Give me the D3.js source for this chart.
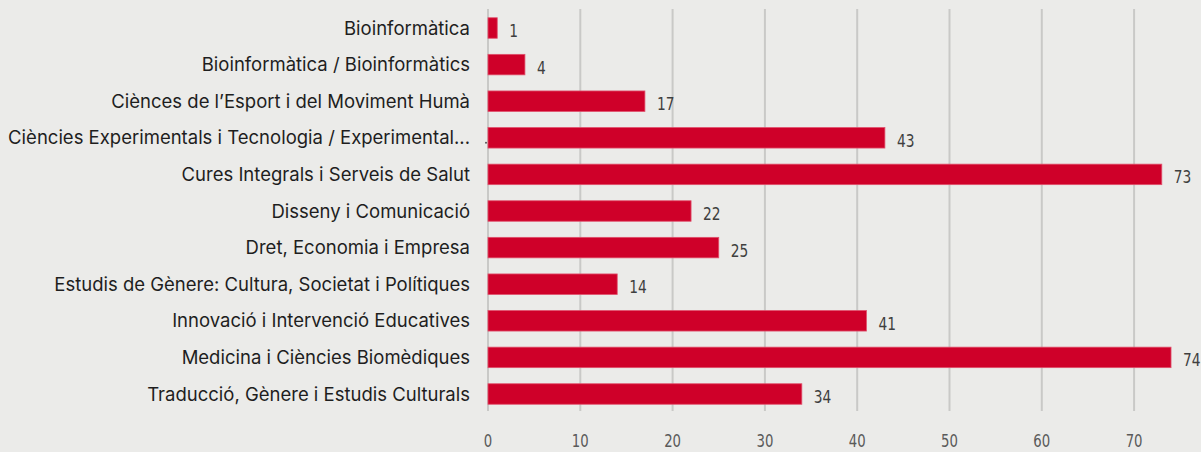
<!DOCTYPE html>
<html>
<head>
<meta charset="utf-8">
<script src="https://cdn.jsdelivr.net/npm/d3@7"></script>
<style>
  html, body { margin: 0; padding: 0; background: #ebebe9; }
  svg { display: block; }
</style>
</head>
<body>
<svg width="1201" height="452"></svg>
<script>
var categories = [
  "Bioinformàtica",
  "Bioinformàtica / Bioinformàtics",
  "Ciènces de l’Esport i del Moviment Humà",
  "Ciències Experimentals i Tecnologia / Experimental...",
  "Cures Integrals i Serveis de Salut",
  "Disseny i Comunicació",
  "Dret, Economia i Empresa",
  "Estudis de Gènere: Cultura, Societat i Polítiques",
  "Innovació i Intervenció Educatives",
  "Medicina i Ciències Biomèdiques",
  "Traducció, Gènere i Estudis Culturals"
];
var values = [1, 4, 17, 43, 73, 22, 25, 14, 41, 74, 34];
var tickValues = [0, 10, 20, 30, 40, 50, 60, 70];

var svg = d3.select("svg");
var numFont = "'Liberation Sans Narrow', 'DejaVu Sans Condensed', sans-serif";

var x = d3.scaleLinear().domain([0, 80]).range([488, 1226.4]);
var y = d3.scaleBand().domain(categories).range([9.7, 412.3])
  .paddingInner(0.44).paddingOuter(0.22);

// grid
svg.append("g").selectAll("line").data(tickValues).enter().append("line")
  .attr("x1", function(d){ return x(d); })
  .attr("x2", function(d){ return x(d); })
  .attr("y1", 9)
  .attr("y2", 411)
  .attr("stroke", "#c9c9c7")
  .attr("stroke-width", 2);

// tick labels (narrowed to match the condensed digits)
svg.append("g").selectAll("text").data(tickValues).enter().append("text")
  .attr("transform", function(d){ return "translate(" + x(d) + ",447) scale(0.82,1)"; })
  .attr("text-anchor", "middle")
  .attr("font-family", numFont)
  .attr("font-size", 18)
  .attr("fill", "#5a5a5a")
  .text(function(d){ return d; });

// bars
svg.append("g").selectAll("rect").data(values).enter().append("rect")
  .attr("x", x(0))
  .attr("y", function(d, i){ return y(categories[i]); })
  .attr("width", function(d){ return x(d) - x(0); })
  .attr("height", y.bandwidth())
  .attr("fill", "#cf0029")
  .attr("stroke", "#e0506c")
  .attr("stroke-width", 0.8);

// value labels
svg.append("g").selectAll("text").data(values).enter().append("text")
  .attr("transform", function(d, i){
    return "translate(" + (x(d) + 12) + "," + (y(categories[i]) + y.bandwidth() / 2 + 9) + ") scale(0.85,1)";
  })
  .attr("font-family", numFont)
  .attr("font-size", 18)
  .attr("fill", "#3f3f3f")
  .text(function(d){ return d; });

// category labels
svg.append("g").selectAll("text").data(categories).enter().append("text")
  .attr("x", 470)
  .attr("y", function(d){ return y(d) + y.bandwidth() / 2 + 6.5; })
  .attr("text-anchor", "end")
  .attr("font-family", "Inter, Roboto, sans-serif")
  .attr("font-size", 18.5)
  .attr("fill", "#1e1e1e")
  .text(function(d){ return d; });

// small mark left of the axis on the truncated row
svg.append("circle")
  .attr("cx", x(0) - 2)
  .attr("cy", y(categories[3]) + y.bandwidth() / 2 + 5)
  .attr("r", 1)
  .attr("fill", "#555");
</script>
</body>
</html>
